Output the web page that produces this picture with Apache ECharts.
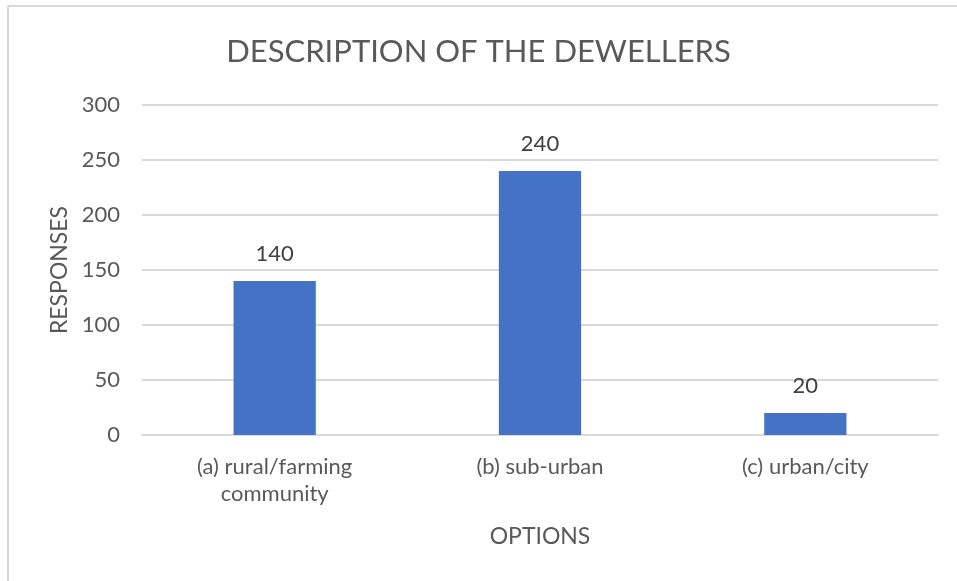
<!DOCTYPE html>
<html>
<head>
<meta charset="utf-8">
<script src="https://cdn.jsdelivr.net/npm/echarts@6/dist/echarts.min.js"></script>
<style>
  html, body { margin: 0; padding: 0; background: #fff; }
  #chart { width: 957px; height: 581px; }
</style>
</head>
<body>
<div id="chart"></div>
<script>
const titleText = 'DESCRIPTION OF THE DEWELLERS';
const categories = ['(a) rural/farming\ncommunity', '(b) sub-urban', '(c) urban/city'];
const responses = [140, 240, 20];
const yTicks = { min: 0, max: 300, interval: 50 };
const yName = 'RESPONSES';
const xName = 'OPTIONS';

const FONT = 'Lato, "Open Sans", sans-serif';
const chart = echarts.init(document.getElementById('chart'));
chart.setOption({
  animation: false,
  backgroundColor: '#ffffff',
  textStyle: { fontFamily: FONT },
  title: {
    text: titleText,
    left: 'center',
    top: 31,
    textStyle: { fontFamily: FONT, fontSize: 31, fontWeight: 'normal', color: '#595959' }
  },
  graphic: [
    { type: 'line', shape: { x1: 8, y1: 6, x2: 957, y2: 6 }, style: { stroke: '#d9d9d9', lineWidth: 2 } },
    { type: 'line', shape: { x1: 8, y1: 6, x2: 8, y2: 581 }, style: { stroke: '#d9d9d9', lineWidth: 2 } }
  ],
  grid: { left: 142, right: 19, top: 105, bottom: 146, containLabel: false },
  xAxis: {
    type: 'category',
    data: categories,
    name: xName,
    nameLocation: 'middle',
    nameGap: 90,
    nameTextStyle: { fontFamily: FONT, fontSize: 23, color: '#595959' },
    axisLine: { show: true, lineStyle: { color: '#d9d9d9', width: 2 } },
    axisTick: { show: false },
    axisLabel: { fontFamily: FONT, fontSize: 22, color: '#595959', margin: 18, lineHeight: 27 }
  },
  yAxis: {
    type: 'value',
    min: yTicks.min,
    max: yTicks.max,
    interval: yTicks.interval,
    name: yName,
    nameLocation: 'middle',
    nameGap: 69,
    nameRotate: 90,
    nameTextStyle: { fontFamily: FONT, fontSize: 23, color: '#595959' },
    axisLine: { show: false },
    axisTick: { show: false },
    axisLabel: { fontFamily: FONT, fontSize: 22, color: '#595959', margin: 22 },
    splitLine: { lineStyle: { color: '#d9d9d9', width: 2 } }
  },
  series: [{
    type: 'bar',
    data: responses,
    barWidth: '31%',
    itemStyle: { color: '#4472c4' },
    label: {
      show: true,
      position: 'top',
      distance: 16,
      fontFamily: FONT,
      fontSize: 22,
      color: '#404040'
    }
  }]
});
</script>
</body>
</html>
